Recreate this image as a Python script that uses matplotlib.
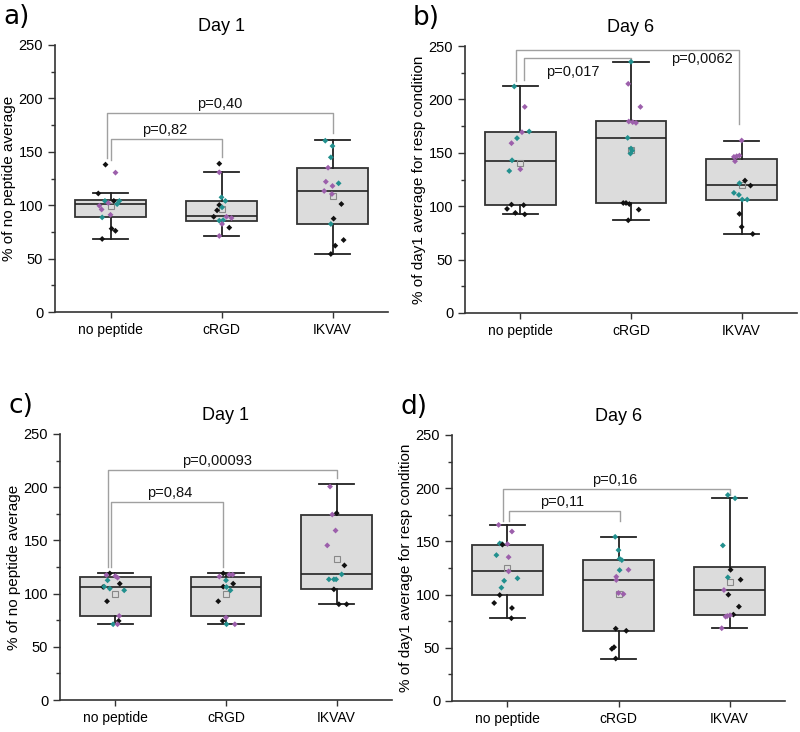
import numpy as np
import matplotlib
matplotlib.use("Agg")
import matplotlib.pyplot as plt
from matplotlib.ticker import MultipleLocator

plt.rcParams['font.family'] = ['Liberation Sans', 'DejaVu Sans']

groups = ['no peptide', 'cRGD', 'IKVAV']

# colour codes of the points: k = black, p = purple, t = teal
colors = {'k': '#111111', 'p': '#9c5fab', 't': '#22908e'}

# ---------------- panel a : Day 1 ----------------
a_q1 = [88.6, 85.2, 82.4]
a_med = [101, 89.9, 113]
a_q3 = [104.6, 104, 135.1]
a_lo = [68.4, 71.2, 54.3]
a_hi = [111, 131.4, 160.7]

a_np = [138, 130.5, 111, 104, 104, 104, 99.5, 102, 96, 88.6, 91, 78, 76, 68.4, 101]
a_np_c = "kpkkttppptpkkkt"
a_np_dx = [-0.045, 0.045, -0.11, 0.03, -0.05, 0.08, -0.1, -0.02, -0.08, -0.075, 0.0, 0.01, 0.045, -0.075, 0.06]

a_rgd = [138.9, 130.8, 107.4, 104, 100.2, 98, 95.2, 89.2, 89.2, 88, 85.5, 86, 82.4, 79, 71.2]
a_rgd_c = "kpttktkkppttpkp"
a_rgd_dx = [-0.02, -0.02, 0, 0.035, -0.02, 0.005, -0.04, -0.07, 0.045, 0.09, -0.02, 0.015, 0.005, 0.07, -0.02]

a_ikv = [160.4, 155.4, 144.8, 135.1, 122, 120.5, 118, 113.3, 110.5, 101.1, 87.4, 82.4, 67.4, 62.1, 54.3]
a_ikv_c = "tttpptpppkktkkk"
a_ikv_dx = [-0.065, 0, -0.015, -0.04, -0.06, 0.055, 0, -0.075, -0.005, 0.08, 0.01, -0.015, 0.1, 0.025, -0.015]

# ---------------- panel b : Day 6 ----------------
b_q1 = [100.9, 102.7, 106.2]
b_med = [142.7, 164, 119.6]
b_q3 = [169.3, 179.6, 144.3]
b_lo = [92.4, 86.8, 74]
b_hi = [212.4, 235.2, 161.5]

b_np = [212.1, 193, 169.3, 170, 163.7, 159, 143, 133, 134.6, 101.5, 101, 97.5, 93.7, 92.4]
b_np_c = "tppttpttpkkkkk"
b_np_dx = [-0.055, 0.04, 0.015, 0.08, -0.03, -0.08, -0.075, -0.1, 0.0, -0.08, 0.03, -0.12, -0.045, 0.04]

b_rgd = [235.2, 214.6, 193, 179.3, 178.7, 178, 164, 154, 152, 149.3, 103, 103, 102, 96.8, 86.8]
b_rgd_c = "tpppppttttkkkkk"
b_rgd_dx = [0, -0.025, 0.085, -0.02, 0.015, 0.045, -0.03, 0, 0.01, -0.005, -0.07, -0.045, -0.015, 0.07, -0.025]

b_ikv = [161.5, 146.2, 146.8, 147.4, 142.1, 124, 121.5, 119.3, 112.5, 110.6, 106.2, 106.2, 92.8, 80.6, 74]
b_ikv_c = "pppppktkttttkkk"
b_ikv_dx = [0, -0.07, -0.045, -0.02, -0.06, 0.03, -0.02, 0.08, -0.07, -0.025, 0.005, 0.05, -0.02, 0, 0.1]

# ---------------- panel c : Day 1 ----------------
c_q1 = [78.7, 78.7, 104.3]
c_med = [106.5, 106.5, 118.4]
c_q3 = [115.6, 115.6, 174.3]
c_lo = [71.2, 71.2, 90]
c_hi = [119, 119, 203.4]

c_np = [119, 117.5, 116.5, 112.5, 109.3, 106.2, 106.5, 104.7, 103.1, 92.8, 79, 74.3, 71.2, 71.2, 115]
c_np_c = "kpptkktttkpktpp"
c_np_dx = [-0.05, -0.08, 0, -0.07, 0.04, -0.11, -0.1, -0.05, 0.08, -0.075, 0.035, 0.03, -0.02, 0.02, 0.02]

c_rgd = [119, 117.8, 117.8, 112.5, 109.3, 106.5, 106.2, 103.1, 92.8, 77.5, 74.3, 71.2, 71.2, 116]
c_rgd_c = "kpptkkttkpktpp"
c_rgd_dx = [-0.025, 0.03, 0.06, 0, 0.065, -0.025, 0.005, 0.04, -0.07, 0, -0.03, 0.005, 0.08, -0.06]

c_ikv = [200.6, 174.3, 175.6, 159.3, 145.3, 126.5, 118.1, 113.4, 113.4, 113.4, 104, 90, 90]
c_ikv_c = "ppkppkttttkkk"
c_ikv_dx = [-0.06, -0.04, 0, -0.01, -0.085, 0.07, 0.045, -0.07, -0.025, -0.005, -0.025, 0.02, 0.09]

# ---------------- panel d : Day 6 ----------------
d_q1 = [99.3, 66.2, 80.6]
d_med = [122.1, 114, 104]
d_q3 = [146.8, 132.4, 125.6]
d_lo = [77.8, 39.9, 68.4]
d_hi = [165.5, 154.3, 190.5]

d_np = [165.5, 159.3, 148.1, 147.5, 147, 147.5, 137.1, 135.2, 121.8, 113, 115.3, 106.5, 99.6, 92.1, 87.4, 77.8]
d_np_c = "ppttkptpptttkkkk"
d_np_dx = [-0.08, 0.04, -0.07, -0.05, -0.045, 0, -0.1, 0.01, 0.01, -0.03, 0.09, -0.055, -0.07, -0.12, 0.04, 0.035]

d_rgd = [154.3, 141.8, 133.7, 132.4, 123, 123.3, 116.8, 113.7, 101.5, 100.5, 68, 66, 50.6, 49, 39.9]
d_rgd_c = "tttttpppppkkkkk"
d_rgd_dx = [-0.03, 0, 0.01, 0.03, 0.01, 0.09, -0.02, -0.02, 0, 0.045, -0.025, 0.07, -0.04, -0.06, -0.025]

d_ikv = [193.6, 190.5, 146.2, 123.3, 116.2, 114, 104.3, 99.9, 88.7, 81.2, 79.3, 79.9, 80.6, 68.4]
d_ikv_c = "tttktkpkkkpppp"
d_ikv_dx = [-0.015, 0.05, -0.06, 0.01, -0.015, 0.1, -0.05, -0.01, 0.085, 0.035, -0.035, -0.02, 0.005, -0.07]

# brackets: (x left, x right, y top, y left end, y right end, text, text x, text y, vertical align)
a_br = [(1.0, 2.0, 161.7, 142, 145, 'p=0,82', 1.49, 163.5, 'bottom'),
        (0.965, 3.0, 186, 144, 168, 'p=0,40', 1.98, 188, 'bottom')]
b_br = [(1.03, 2.0, 239, 218, 236, 'p=0,017', 1.47, 226, 'center'),
        (0.965, 2.98, 246, 217, 176.5, 'p=0,0062', 2.64, 238, 'center')]
c_br = [(0.96, 1.97, 186, 124.6, 124.6, 'p=0,84', 1.49, 188, 'bottom'),
        (0.93, 3.0, 216.5, 124.6, 209, 'p=0,00093', 1.92, 218.5, 'bottom')]
d_br = [(1.01, 2.01, 178.6, 169, 169, 'p=0,11', 1.49, 180.5, 'bottom'),
        (0.96, 3.0, 199, 169, 194, 'p=0,16', 1.97, 201, 'bottom')]

panels = [
    ('a)', 'Day 1', '% of no peptide average', [a_q1, a_med, a_q3, a_lo, a_hi],
     [(a_np, a_np_c, a_np_dx), (a_rgd, a_rgd_c, a_rgd_dx), (a_ikv, a_ikv_c, a_ikv_dx)], a_br,
     [55, 45, 388, 312]),
    ('b)', 'Day 6', '% of day1 average for resp condition', [b_q1, b_med, b_q3, b_lo, b_hi],
     [(b_np, b_np_c, b_np_dx), (b_rgd, b_rgd_c, b_rgd_dx), (b_ikv, b_ikv_c, b_ikv_dx)], b_br,
     [465, 46, 797, 313]),
    ('c)', 'Day 1', '% of no peptide average', [c_q1, c_med, c_q3, c_lo, c_hi],
     [(c_np, c_np_c, c_np_dx), (c_rgd, c_rgd_c, c_rgd_dx), (c_ikv, c_ikv_c, c_ikv_dx)], c_br,
     [60, 434, 392, 700]),
    ('d)', 'Day 6', '% of day1 average for resp condition', [d_q1, d_med, d_q3, d_lo, d_hi],
     [(d_np, d_np_c, d_np_dx), (d_rgd, d_rgd_c, d_rgd_dx), (d_ikv, d_ikv_c, d_ikv_dx)], d_br,
     [452, 435, 785, 701]),
]

W, H = 800, 732
fig = plt.figure(figsize=(W / 100, H / 100), dpi=100)

for label, title, ylab, stats, pts, brs, box in panels:
    l, t, r, b = box
    ax = fig.add_axes([l / W, 1 - b / H, (r - l) / W, (b - t) / H])
    q1, med, q3, lo, hi = stats
    bxstats = []
    for i in range(3):
        bxstats.append({'q1': q1[i], 'med': med[i], 'q3': q3[i],
                        'whislo': lo[i], 'whishi': hi[i], 'fliers': [],
                        'mean': np.mean(pts[i][0])})
    ax.bxp(bxstats, positions=[1, 2, 3], widths=0.64, capwidths=0.32,
           patch_artist=True, showfliers=False, showmeans=True,
           boxprops=dict(facecolor='#dcdcdc', edgecolor='#333333', linewidth=1.3),
           whiskerprops=dict(color='#222222', linewidth=1.3),
           capprops=dict(color='#222222', linewidth=1.3),
           medianprops=dict(color='#222222', linewidth=1.2),
           meanprops=dict(marker='s', markerfacecolor='none', markeredgecolor='#888888',
                          markersize=4, markeredgewidth=0.8),
           zorder=2)
    for i, (vals, cols, dx) in enumerate(pts):
        xs = [i + 1 + d for d in dx]
        ax.scatter(xs, vals, c=[colors[c] for c in cols], marker='D', s=9,
                   linewidths=0, zorder=4)

    for x1, x2, ytop, y1, y2, txt, tx, ty, va in brs:
        ax.plot([x1, x1, x2, x2], [y1, ytop, ytop, y2], color='#a0a0a0', lw=1.0, zorder=1)
        ax.text(tx, ty, txt, ha='center', va=va, fontsize=10.5, color='#111111')

    ax.set_xlim(0.5, 3.5)
    ax.set_ylim(0, 250)
    ax.set_xticks([1, 2, 3])
    ax.set_xticklabels(groups, fontsize=10)
    ax.yaxis.set_major_locator(MultipleLocator(50))
    ax.yaxis.set_minor_locator(MultipleLocator(25))
    ax.tick_params(axis='y', labelsize=10.5, length=5, width=1, color='#333333')
    ax.tick_params(axis='y', which='minor', length=3, width=1, color='#333333')
    ax.tick_params(axis='x', length=4, width=1, color='#333333', pad=4)
    for s in ['top', 'right']:
        ax.spines[s].set_visible(False)
    for s in ['left', 'bottom']:
        ax.spines[s].set_linewidth(1.2)
        ax.spines[s].set_color('#333333')
    ax.set_ylabel(ylab, fontsize=11, labelpad=2)
    ax.set_title(title, fontsize=13, pad=10)

    fig.text((l - 52) / W, 1 - (t - 28) / H, label, fontsize=19,
             family='DejaVu Sans', ha='left', va='center')

fig.savefig('out.png', dpi=100)
